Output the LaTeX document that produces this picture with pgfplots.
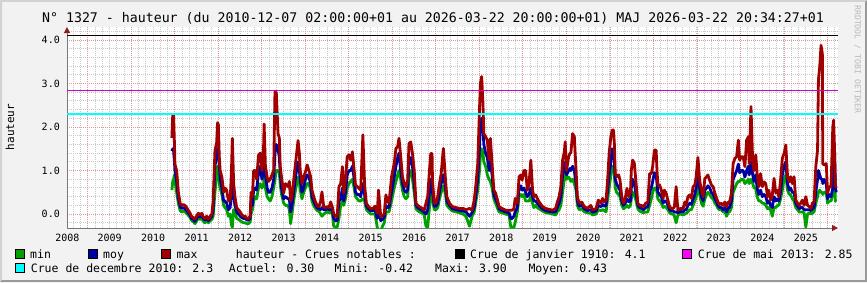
\documentclass[border=0pt]{standalone}
\usepackage{fontspec}
\setmainfont{DejaVu Sans Mono}
\usepackage{pgfplots}
\pgfplotsset{compat=1.18}
\usepackage{pgfplotstable}
\usetikzlibrary{arrows.meta}
\definecolor{cmin}{RGB}{0,160,0}
\definecolor{cmoy}{RGB}{0,0,160}
\definecolor{cmax}{RGB}{160,0,0}
\definecolor{ccyan}{RGB}{0,255,255}
\definecolor{cmag}{RGB}{200,0,200}
\definecolor{cmagleg}{RGB}{255,0,255}
\definecolor{bgc}{RGB}{242,242,242}
\definecolor{shadea}{RGB}{210,210,210}
\definecolor{shadeb}{RGB}{153,153,153}
\definecolor{mgrid}{RGB}{225,150,150}
\definecolor{ngrid}{RGB}{200,200,200}
\definecolor{axc}{RGB}{120,120,120}
\definecolor{arrowc}{RGB}{140,30,30}
\definecolor{rrdtxt}{RGB}{185,185,185}
\newcommand{\legfont}{\fontsize{11.5}{13}\selectfont}

\pgfplotstableread{
t mx my mn
2010.93 1.75 1.45 0.55
2010.95 2.28 1.50 0.75
2010.97 2.28 1.45 0.80
2010.99 1.60 1.20 0.90
2011.00 1.15 1.00 0.75
2011.04 1.00 0.75 0.50
2011.08 0.50 0.35 0.25
2011.12 0.25 0.18 0.08
2011.15 0.20 0.13 0.05
2011.19 0.22 0.15 0.07
2011.23 0.20 0.12 0.05
2011.27 0.15 0.08 0.02
2011.31 0.08 0.03 -0.03
2011.35 0.02 -0.03 -0.08
2011.38 -0.05 -0.10 -0.14
2011.42 -0.08 -0.12 -0.17
2011.46 -0.12 -0.17 -0.22
2011.50 -0.04 -0.10 -0.15
2011.54 0.02 -0.04 -0.10
2011.58 -0.02 -0.07 -0.12
2011.62 0.02 -0.04 -0.10
2011.65 -0.06 -0.10 -0.16
2011.69 -0.10 -0.14 -0.20
2011.73 -0.05 -0.10 -0.15
2011.77 -0.12 -0.15 -0.20
2011.81 -0.05 -0.10 -0.15
2011.85 0.00 -0.05 -0.12
2011.88 0.30 0.10 -0.05
2011.92 1.45 1.10 0.50
2011.96 1.65 1.35 0.90
2011.98 2.10 1.50 1.10
2012.00 2.05 1.50 1.10
2012.02 1.30 1.10 0.70
2012.04 1.00 0.80 0.60
2012.08 0.85 0.60 0.45
2012.12 0.50 0.30 0.20
2012.15 0.60 0.30 0.15
2012.19 0.55 0.25 0.10
2012.23 0.30 0.10 -0.05
2012.27 0.30 0.15 0.00
2012.30 1.00 0.50 -0.25
2012.32 1.74 0.90 -0.30
2012.35 0.70 0.40 0.10
2012.38 0.40 0.20 0.05
2012.42 0.15 0.05 -0.10
2012.46 0.10 0.00 -0.12
2012.50 0.05 -0.05 -0.15
2012.54 -0.02 -0.08 -0.18
2012.58 -0.05 -0.10 -0.20
2012.62 -0.05 -0.10 -0.20
2012.65 -0.10 -0.13 -0.22
2012.69 -0.10 -0.14 -0.22
2012.73 -0.05 -0.10 -0.18
2012.75 0.50 0.30 0.00
2012.78 0.40 0.20 0.10
2012.81 1.00 0.55 0.30
2012.85 1.00 0.60 0.40
2012.88 0.80 0.55 0.35
2012.92 1.35 0.95 0.60
2012.96 1.40 1.10 0.70
2013.00 1.00 0.80 0.60
2013.04 1.60 1.00 0.70
2013.05 2.07 1.30 0.90
2013.08 1.10 0.90 0.60
2013.12 0.85 0.60 0.40
2013.15 0.75 0.50 0.35
2013.19 0.80 0.50 0.30
2013.23 0.90 0.60 0.40
2013.27 1.00 0.80 0.60
2013.30 2.81 1.40 0.80
2013.33 2.80 1.60 1.00
2013.37 1.85 1.50 1.00
2013.40 1.75 1.30 0.95
2013.42 1.10 0.95 0.70
2013.45 0.85 0.60 0.45
2013.50 0.48 0.35 0.25
2013.54 0.70 0.40 0.20
2013.60 0.63 0.35 0.20
2013.63 0.75 0.35 0.10
2013.66 0.30 0.05 -0.22
2013.69 0.40 0.20 0.00
2013.73 0.78 0.50 0.30
2013.78 1.24 0.90 0.60
2013.83 1.69 1.20 0.85
2013.86 1.40 1.00 0.75
2013.88 1.00 0.80 0.55
2013.92 0.70 0.50 0.35
2013.96 0.86 0.60 0.50
2014.00 0.97 0.80 0.60
2014.04 1.13 0.90 0.70
2014.08 1.00 0.85 0.70
2014.12 0.86 0.70 0.55
2014.15 0.55 0.40 0.30
2014.19 0.40 0.30 0.20
2014.23 0.28 0.20 0.13
2014.27 0.20 0.14 0.08
2014.31 0.17 0.12 0.06
2014.35 0.30 0.10 0.00
2014.38 0.51 0.15 -0.05
2014.42 0.17 0.10 0.00
2014.46 0.15 0.10 0.03
2014.50 0.17 0.12 0.05
2014.54 0.15 0.10 0.03
2014.58 0.28 0.12 0.04
2014.62 0.15 0.08 0.00
2014.65 0.00 -0.10 -0.28
2014.69 -0.05 -0.15 -0.30
2014.73 -0.06 -0.15 -0.30
2014.77 0.63 0.30 -0.10
2014.81 0.70 0.35 0.20
2014.85 1.09 0.60 0.30
2014.88 0.48 0.30 0.20
2014.92 0.78 0.50 0.35
2014.96 1.32 0.90 0.60
2015.00 1.36 1.00 0.70
2015.04 1.24 1.00 0.75
2015.08 1.43 1.10 0.80
2015.12 1.00 0.80 0.60
2015.15 0.67 0.50 0.40
2015.19 0.63 0.45 0.35
2015.23 0.59 0.45 0.30
2015.27 0.55 0.40 0.30
2015.32 1.82 0.70 0.35
2015.36 0.67 0.45 0.30
2015.40 0.25 0.18 0.10
2015.45 0.17 0.12 0.05
2015.50 0.13 0.08 0.00
2015.55 0.13 0.08 0.00
2015.60 0.18 0.10 0.00
2015.65 0.02 -0.10 -0.30
2015.68 0.55 0.10 -0.42
2015.73 -0.06 -0.15 -0.40
2015.77 -0.03 -0.12 -0.28
2015.81 0.00 -0.08 -0.20
2015.85 0.44 0.20 0.05
2015.88 0.30 0.15 0.05
2015.92 0.25 0.15 0.05
2015.98 0.86 0.50 0.30
2016.04 1.16 0.85 0.60
2016.08 1.51 1.10 0.75
2016.12 1.55 1.30 0.90
2016.15 1.74 1.40 1.00
2016.19 1.32 1.00 0.80
2016.23 0.86 0.70 0.55
2016.27 0.70 0.55 0.40
2016.31 0.63 0.50 0.35
2016.35 0.78 0.55 0.40
2016.38 1.62 1.20 0.90
2016.42 1.66 1.30 1.00
2016.46 1.39 1.10 0.80
2016.50 1.01 0.70 0.50
2016.54 0.25 0.20 0.12
2016.58 0.20 0.15 0.08
2016.62 0.17 0.12 0.05
2016.69 0.13 0.08 0.02
2016.73 0.09 0.04 -0.02
2016.77 0.25 0.00 -0.28
2016.81 0.40 0.10 -0.30
2016.85 1.00 0.50 0.15
2016.88 1.39 0.80 0.40
2016.91 1.39 0.80 0.50
2016.92 0.78 0.50 0.35
2016.96 0.25 0.18 0.10
2017.00 0.25 0.18 0.10
2017.04 0.40 0.25 0.15
2017.08 0.70 0.50 0.35
2017.12 0.93 0.70 0.50
2017.17 1.51 0.90 0.65
2017.22 0.78 0.60 0.45
2017.25 0.40 0.30 0.20
2017.31 0.25 0.20 0.13
2017.38 0.17 0.12 0.07
2017.46 0.15 0.10 0.05
2017.54 0.13 0.08 0.03
2017.62 0.13 0.07 0.00
2017.69 0.10 0.05 -0.05
2017.77 0.13 -0.05 -0.28
2017.83 0.09 0.03 -0.05
2017.88 0.32 0.15 0.05
2017.92 0.70 0.45 0.30
2017.96 1.16 0.80 0.55
2018.00 2.39 1.50 1.00
2018.02 3.00 2.00 1.30
2018.05 3.16 2.20 1.50
2018.08 2.54 2.00 1.40
2018.10 1.85 1.60 1.20
2018.14 1.78 1.40 1.10
2018.18 1.70 1.30 0.90
2018.22 1.24 1.00 0.80
2018.25 1.74 1.20 0.75
2018.29 1.16 0.90 0.60
2018.33 0.55 0.45 0.35
2018.37 0.48 0.35 0.25
2018.42 0.30 0.22 0.12
2018.45 0.17 0.12 0.05
2018.52 0.13 0.08 0.03
2018.60 0.09 0.05 0.00
2018.68 0.09 0.03 -0.02
2018.72 0.09 -0.10 -0.30
2018.75 0.09 -0.10 -0.30
2018.79 0.12 -0.05 -0.30
2018.82 0.36 0.05 -0.20
2018.87 0.25 0.15 0.05
2018.91 0.86 0.60 0.40
2018.95 0.90 0.65 0.45
2018.98 0.78 0.55 0.40
2019.02 1.00 0.60 0.45
2019.06 1.00 0.50 0.30
2019.10 0.55 0.40 0.30
2019.14 0.70 0.45 0.30
2019.18 1.24 0.60 0.40
2019.22 0.55 0.40 0.25
2019.25 0.40 0.30 0.15
2019.29 0.44 0.30 0.20
2019.33 0.36 0.25 0.15
2019.37 0.28 0.20 0.12
2019.45 0.17 0.12 0.07
2019.52 0.13 0.08 0.03
2019.60 0.11 0.06 0.02
2019.68 0.09 0.05 0.00
2019.75 0.13 0.05 -0.02
2019.79 0.28 0.15 0.05
2019.83 0.40 0.25 0.10
2019.87 0.63 0.40 0.20
2019.91 1.24 0.90 0.50
2019.95 1.43 1.10 0.80
2019.97 1.66 1.20 1.00
2020.00 1.00 0.90 0.80
2020.05 1.32 1.00 0.85
2020.08 1.40 1.05 0.80
2020.10 1.40 1.00 0.75
2020.14 1.85 1.10 0.80
2020.18 1.78 1.00 0.70
2020.22 1.00 0.70 0.55
2020.25 0.40 0.30 0.20
2020.29 0.25 0.18 0.10
2020.35 0.28 0.20 0.12
2020.41 0.17 0.12 0.05
2020.48 0.13 0.08 0.03
2020.56 0.20 0.10 0.02
2020.60 0.09 0.04 -0.02
2020.68 0.13 0.07 0.00
2020.73 0.32 0.20 0.10
2020.79 0.25 0.17 0.08
2020.83 0.36 0.22 0.10
2020.87 0.28 0.18 0.08
2020.91 0.32 0.20 0.05
2020.95 0.86 0.60 0.40
2020.98 1.40 0.90 0.60
2021.02 1.78 1.20 0.90
2021.05 1.93 1.50 1.10
2021.08 1.93 1.40 1.05
2021.10 1.62 1.20 0.90
2021.12 0.93 0.80 0.60
2021.15 0.86 0.70 0.50
2021.20 0.90 0.60 0.45
2021.23 0.78 0.55 0.40
2021.27 0.40 0.30 0.20
2021.31 0.25 0.20 0.12
2021.35 0.36 0.25 0.15
2021.39 0.59 0.35 0.20
2021.43 0.40 0.28 0.15
2021.47 0.50 0.30 0.20
2021.49 1.01 0.60 0.35
2021.52 1.24 0.80 0.50
2021.56 1.16 0.70 0.45
2021.60 0.70 0.45 0.30
2021.64 0.25 0.20 0.12
2021.68 0.20 0.15 0.07
2021.72 0.20 0.13 0.05
2021.77 0.17 0.10 0.03
2021.82 0.25 0.15 0.05
2021.87 0.28 0.17 0.05
2021.91 0.93 0.50 0.20
2021.95 0.93 0.60 0.35
2021.98 1.09 0.75 0.50
2022.02 1.47 0.95 0.60
2022.06 1.47 0.90 0.60
2022.08 1.00 0.70 0.50
2022.10 0.67 0.50 0.35
2022.14 0.67 0.45 0.30
2022.18 0.55 0.40 0.25
2022.22 0.36 0.25 0.15
2022.25 0.55 0.30 0.18
2022.29 0.48 0.30 0.15
2022.33 0.32 0.20 0.10
2022.37 0.17 0.10 0.03
2022.41 0.13 0.07 0.00
2022.45 0.13 0.07 0.00
2022.48 0.17 0.05 -0.05
2022.52 0.63 0.05 -0.20
2022.56 0.09 0.03 -0.02
2022.62 0.13 0.06 0.00
2022.68 0.13 0.05 -0.02
2022.72 0.28 0.10 0.00
2022.75 0.20 0.10 0.02
2022.79 0.40 0.20 0.05
2022.83 0.44 0.25 0.10
2022.87 0.36 0.22 0.10
2022.91 0.63 0.35 0.20
2022.95 0.67 0.45 0.30
2022.98 0.86 0.60 0.40
2023.02 1.30 0.90 0.60
2023.06 0.78 0.60 0.45
2023.10 0.55 0.40 0.25
2023.14 0.40 0.30 0.18
2023.18 0.82 0.55 0.35
2023.22 0.86 0.60 0.45
2023.25 0.90 0.65 0.50
2023.29 0.78 0.60 0.45
2023.33 0.67 0.50 0.38
2023.37 0.63 0.45 0.35
2023.41 0.48 0.35 0.25
2023.45 0.36 0.28 0.20
2023.48 0.28 0.20 0.13
2023.52 0.22 0.15 0.10
2023.56 0.25 0.15 0.10
2023.60 0.20 0.10 0.05
2023.64 0.28 0.15 0.05
2023.68 0.17 0.05 -0.05
2023.72 0.28 0.15 0.05
2023.75 0.28 0.15 0.05
2023.79 0.48 0.30 0.15
2023.83 1.16 0.80 0.50
2023.87 1.28 0.90 0.60
2023.91 1.32 1.00 0.70
2023.95 1.70 1.15 0.75
2023.98 1.24 0.95 0.75
2024.02 1.32 1.00 0.80
2024.06 1.32 1.00 0.80
2024.10 1.09 0.85 0.70
2024.14 1.70 1.00 0.75
2024.18 1.78 1.10 0.80
2024.20 1.16 0.90 0.70
2024.24 2.47 1.20 0.80
2024.28 1.16 0.90 0.70
2024.31 1.00 0.75 0.60
2024.35 1.36 0.90 0.60
2024.38 0.93 0.60 0.40
2024.42 0.63 0.45 0.30
2024.46 0.93 0.55 0.30
2024.50 0.63 0.40 0.25
2024.54 0.74 0.45 0.25
2024.58 0.70 0.40 0.20
2024.62 0.40 0.25 0.12
2024.65 0.55 0.30 0.15
2024.69 0.32 0.20 0.10
2024.73 0.44 0.15 -0.05
2024.77 0.82 0.40 0.15
2024.81 0.48 0.30 0.15
2024.85 0.55 0.35 0.20
2024.88 0.40 0.30 0.20
2024.92 0.78 0.50 0.35
2024.96 1.28 0.90 0.55
2025.00 1.39 1.10 0.80
2025.04 1.59 1.20 0.90
2025.08 0.86 0.70 0.55
2025.12 0.74 0.55 0.45
2025.15 0.86 0.60 0.45
2025.19 0.70 0.50 0.35
2025.23 0.86 0.50 0.30
2025.27 0.32 0.25 0.15
2025.31 0.25 0.18 0.10
2025.35 0.20 0.12 0.05
2025.38 0.25 0.15 0.05
2025.42 0.32 0.15 0.05
2025.46 0.20 0.10 0.03
2025.50 0.40 0.10 -0.30
2025.54 0.20 0.10 0.00
2025.58 0.17 0.10 0.03
2025.62 0.13 0.08 0.00
2025.65 0.25 0.12 0.03
2025.69 0.28 0.15 0.05
2025.73 1.09 0.50 0.25
2025.77 1.47 0.80 0.40
2025.79 3.08 1.00 0.50
2025.82 3.39 0.90 0.55
2025.85 3.88 0.80 0.50
2025.88 3.69 0.80 0.50
2025.89 1.16 0.70 0.45
2025.92 1.13 0.80 0.50
2025.97 1.16 0.70 0.50
2026.00 0.48 0.35 0.25
2026.04 0.63 0.45 0.30
2026.08 0.63 0.40 0.30
2026.12 2.00 0.60 0.45
2026.14 2.16 0.90 0.60
2026.16 1.50 1.47 0.90
2026.18 0.65 0.60 0.30
2026.20 0.60 0.50 0.28
}\hauteur

\begin{document}
\begin{tikzpicture}[x=1pt,y=1pt]
\useasboundingbox (0pt,0pt) rectangle (867pt,282pt);
\fill[bgc] (0pt,0pt) rectangle (867pt,282pt);
\fill[shadea] (0pt,0pt) -- (0pt,282pt) -- (867pt,282pt) -- (865pt,280pt) -- (2pt,280pt) -- (2pt,2pt) -- cycle;
\fill[shadeb] (867pt,282pt) -- (867pt,0pt) -- (0pt,0pt) -- (2pt,2pt) -- (865pt,2pt) -- (865pt,280pt) -- cycle;
\begin{axis}[
  at={(67pt,54pt)}, anchor=south west, scale only axis,
  width=771pt, height=201pt,
  xmin=2008.52, xmax=2026.24, ymin=-0.32, ymax=4.3,
  axis lines=left,
  axis line style={axc, line width=1pt},
  x axis line style={-{Triangle[length=6pt,width=6pt,color=arrowc]}},
  y axis line style={-{Triangle[length=6pt,width=6pt,color=arrowc]}},
  axis background/.style={fill=white},
  xmajorgrids=false, xminorgrids=true, ymajorgrids=true, yminorgrids=true,
  major grid style={mgrid, line width=1pt, dash pattern=on 1pt off 1pt},
  minor grid style={ngrid, line width=1pt, dash pattern=on 1pt off 1pt},
  xtick={2008.53,2009.5,2010.5,2011.5,2012.5,2013.5,2014.5,2015.5,2016.5,2017.5,2018.5,2019.5,2020.5,2021.5,2022.5,2023.5,2024.5,2025.5},
  xticklabels={2008,2009,2010,2011,2012,2013,2014,2015,2016,2017,2018,2019,2020,2021,2022,2023,2024,2025},
  extra x ticks={2009,2010,2011,2012,2013,2014,2015,2016,2017,2018,2019,2020,2021,2022,2023,2024,2025,2026},
  extra x tick style={xmajorgrids=true, xticklabel={}},
  minor xtick={2008.66667,2008.83333,...,2026.2},
  ytick={0,1,2,3,4},
  yticklabels={0.0,1.0,2.0,3.0,4.0},
  minor ytick={-0.2,0.2,0.4,0.6,0.8,1.2,1.4,1.6,1.8,2.2,2.4,2.6,2.8,3.2,3.4,3.6,3.8,4.2},
  major tick length=0pt, minor tick length=0pt,
  xticklabel style={font=\fontsize{10}{12}\selectfont, anchor=base, inner sep=0pt, yshift=-13pt},
  yticklabel style={font=\fontsize{10}{12}\selectfont, anchor=east, inner sep=0pt, xshift=-7pt},
  clip=true,
]
\addplot[cmin, line width=2.8pt, line join=round] table[x=t, y=mn] {\hauteur};
\addplot[cmoy, line width=2.8pt, line join=round] table[x=t, y=my] {\hauteur};
\addplot[cmax, line width=2.8pt, line join=round] table[x=t, y=mx] {\hauteur};
\addplot[black, line width=1.1pt] coordinates {(2008.52,4.1) (2026.24,4.1)};
\addplot[cmag, line width=1.1pt] coordinates {(2008.52,2.85) (2026.24,2.85)};
\addplot[ccyan, line width=1.6pt] coordinates {(2008.52,2.3) (2026.24,2.3)};
\end{axis}
% title
\node[anchor=base, inner sep=0pt, font=\fontsize{13.25}{15}\selectfont] at (433pt,259pt)
  {N° 1327 - hauteur (du 2010-12-07 02:00:00+01 au 2026-03-22 20:00:00+01) MAJ 2026-03-22 20:34:27+01};
% y label
\node[rotate=90, inner sep=0pt, font=\fontsize{11}{13}\selectfont] at (10pt,155pt) {hauteur};
% watermark
\node[rotate=-90, anchor=west, inner sep=0pt, text=rrdtxt, font=\fontsize{8.2}{10}\selectfont] at (857.5pt,277pt) {RRDTOOL / TOBI OETIKER};
% legend row 1
\filldraw[fill=cmin, draw=black, line width=0.8pt] (15.5pt,23.5pt) rectangle (24.5pt,32.5pt);
\node[anchor=base west, inner sep=0pt, font=\legfont] at (30pt,24pt) {min};
\filldraw[fill=cmoy, draw=black, line width=0.8pt] (88.5pt,23.5pt) rectangle (97.5pt,32.5pt);
\node[anchor=base west, inner sep=0pt, font=\legfont] at (103pt,24pt) {moy};
\filldraw[fill=cmax, draw=black, line width=0.8pt] (161.5pt,23.5pt) rectangle (170.5pt,32.5pt);
\node[anchor=base west, inner sep=0pt, font=\legfont] at (176.5pt,24pt) {max};
\node[anchor=base west, inner sep=0pt, font=\legfont] at (235.7pt,24pt) {hauteur - Crues notables :};
\filldraw[fill=black, draw=black, line width=0.8pt] (455.5pt,23.5pt) rectangle (464.5pt,32.5pt);
\node[anchor=base west, inner sep=0pt, font=\legfont] at (470pt,24pt) {Crue de janvier 1910: 4.1};
\filldraw[fill=cmagleg, draw=black, line width=0.8pt] (682.5pt,23.5pt) rectangle (691.5pt,32.5pt);
\node[anchor=base west, inner sep=0pt, font=\legfont] at (697.7pt,24pt) {Crue de mai 2013: 2.85};
% legend row 2
\filldraw[fill=ccyan, draw=black, line width=0.8pt] (15.5pt,9.5pt) rectangle (24.5pt,18.5pt);
\node[anchor=base west, inner sep=0pt, font=\legfont] at (30.7pt,10pt) {Crue de decembre 2010: 2.3};
\node[anchor=base west, inner sep=0pt, font=\legfont] at (228.7pt,10pt) {Actuel: 0.30};
\node[anchor=base west, inner sep=0pt, font=\legfont] at (334.3pt,10pt) {Mini: -0.42};
\node[anchor=base west, inner sep=0pt, font=\legfont] at (435pt,10pt) {Maxi: 3.90};
\node[anchor=base west, inner sep=0pt, font=\legfont] at (528.3pt,10pt) {Moyen: 0.43};
\end{tikzpicture}
\end{document}
